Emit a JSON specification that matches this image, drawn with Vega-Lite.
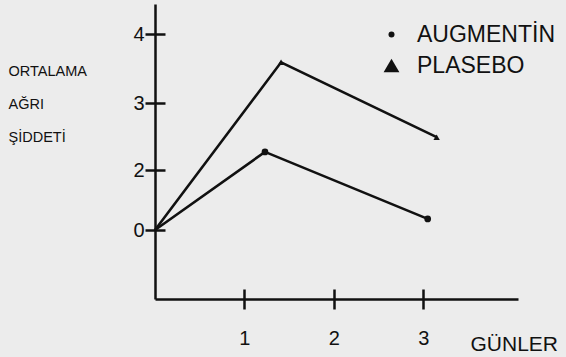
{
  "$schema": "https://vega.github.io/schema/vega-lite/v6.json",
  "autosize": "none",
  "padding": {"left": 155, "top": 4, "right": 48, "bottom": 58},
  "width": 363,
  "height": 295,
  "background": "#ececec",
  "config": {
    "view": {"stroke": null},
    "font": "Liberation Sans",
    "axis": {"labelFontSize": 20, "labelColor": "#111", "tickColor": "#111", "tickWidth": 2.5, "domainColor": "#111", "domainWidth": 2.5, "titleColor": "#111", "titleFontWeight": "normal"}
  },
  "data": {"values": [
    {"seri": "AUGMENTİN", "gun": 0, "siddet": 0},
    {"seri": "AUGMENTİN", "gun": 1.23, "siddet": 2.27},
    {"seri": "AUGMENTİN", "gun": 3.05, "siddet": 0.37},
    {"seri": "PLASEBO", "gun": 0, "siddet": 0},
    {"seri": "PLASEBO", "gun": 1.41, "siddet": 3.59},
    {"seri": "PLASEBO", "gun": 3.15, "siddet": 2.49}
  ]},
  "encoding": {
    "x": {
      "field": "gun", "type": "quantitative",
      "scale": {"domain": [0, 4.06], "nice": false, "zero": false},
      "axis": {
        "values": [1, 2, 3], "format": "d", "title": "GÜNLER",
        "domain": true, "domainColor": "#111", "domainWidth": 2.5,
        "grid": true, "gridColor": "#111", "gridWidth": 2.5, "gridDash": [0, 285, 10, 2000], "gridOpacity": 1,
        "tickSize": 10, "tickWidth": 2.5, "tickColor": "#111",
        "labelFontSize": 20, "labelColor": "#111", "labelPadding": 19, "labelFlush": false,
        "titleX": 315, "titleY": 51, "titleAlign": "left",
        "titleBaseline": "alphabetic", "titleFontSize": 21, "titleFontWeight": "normal", "titleColor": "#111"
      }
    },
    "y": {
      "field": "siddet", "type": "quantitative",
      "scale": {"domain": [-2.3, 0, 2, 3, 4, 4.43], "range": [295, 226, 166, 99, 30, 0], "nice": false, "zero": false},
      "axis": {
        "values": [0, 2, 3, 4], "format": "d", "title": ["ORTALAMA", "AĞRI", "ŞİDDETİ"],
        "domain": true, "domainColor": "#111", "domainWidth": 2.5,
        "grid": true, "gridColor": "#111", "gridWidth": 2.5, "gridDash": [10, 2000], "gridOpacity": 1,
        "tickSize": 10, "tickWidth": 2.5, "tickColor": "#111",
        "labelFontSize": 20, "labelColor": "#111", "labelPadding": 1,
        "titleAngle": 0, "titleAlign": "left",
        "titleBaseline": "alphabetic", "titleX": -147, "titleY": 71, "titleFontSize": 14.5,
        "titleFontWeight": "normal", "titleLineHeight": 33, "titleColor": "#111"
      }
    }
  },
  "layer": [
    {
      "mark": {"type": "line", "color": "#111", "strokeWidth": 2.6},
      "encoding": {"detail": {"field": "seri", "type": "nominal"}}
    },
    {
      "transform": [{"filter": "datum.gun > 0 && datum.seri === 'AUGMENTİN'"}],
      "mark": {"type": "point", "shape": "circle", "filled": true, "color": "#111", "opacity": 1, "size": 45}
    },
    {
      "transform": [{"filter": "datum.gun > 0 && datum.seri === 'PLASEBO'"}],
      "mark": {"type": "point", "shape": "triangle-up", "filled": true, "color": "#111", "opacity": 1, "size": 40}
    },
    {
      "transform": [{"filter": "datum.gun > 0"}],
      "mark": {"type": "point", "filled": true, "color": "#111", "opacity": 0},
      "encoding": {
        "shape": {
          "field": "seri", "type": "nominal",
          "scale": {"domain": ["AUGMENTİN", "PLASEBO"], "range": ["circle", "triangle-up"]},
          "legend": {
            "orient": "none", "legendX": 225, "legendY": 19, "title": null,
            "labelFontSize": 23, "labelColor": "#111", "rowPadding": 7, "labelOffset": 14,
            "symbolFillColor": "#111", "symbolStrokeColor": "#111", "symbolOpacity": 1
          }
        },
        "size": {
          "field": "seri", "type": "nominal",
          "scale": {"domain": ["AUGMENTİN", "PLASEBO"], "range": [36, 250]},
          "legend": {
            "orient": "none", "legendX": 225, "legendY": 19, "title": null,
            "labelFontSize": 23, "labelColor": "#111", "rowPadding": 7, "labelOffset": 14,
            "symbolFillColor": "#111", "symbolStrokeColor": "#111", "symbolOpacity": 1
          }
        }
      }
    }
  ]
}
